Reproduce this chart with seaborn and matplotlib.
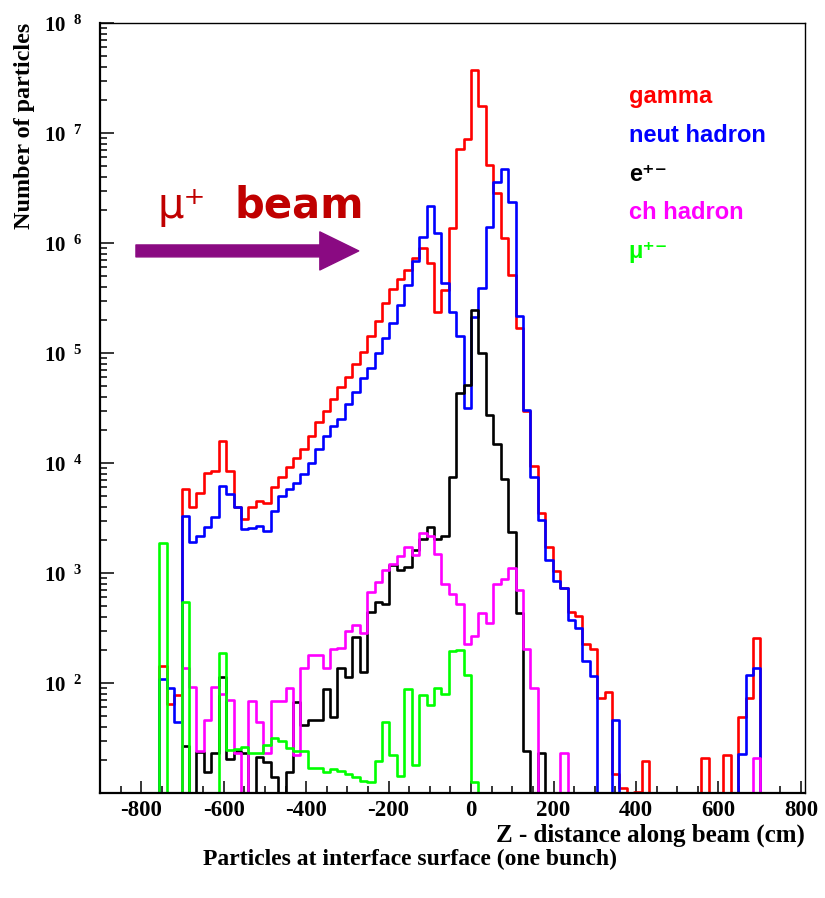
import numpy as np
import pandas as pd
import matplotlib
matplotlib.use("Agg")
import matplotlib.pyplot as plt
import seaborn as sns
from matplotlib.ticker import MultipleLocator, LogLocator, FuncFormatter, NullFormatter
from matplotlib.patches import FancyArrowPatch
from matplotlib.font_manager import FontProperties

# histogram binning: Z from -900 to 810 cm, 18 cm bins (95 bins)
z_lo, z_hi, z_bin = -900, 810, 18

gamma = [0, 0, 0, 0, 0, 0, 0, 0, 143, 65,
         78, 5800, 4000, 5370, 8160, 8500, 15800, 8500, 4000, 3100,
         4000, 4520, 4300, 6100, 7400, 9250, 11000, 13300, 17600, 23700,
         29900, 38500, 49000, 61000, 79000, 103000, 142000, 197000, 285000, 381000,
         468000, 569000, 727000, 896000, 653000, 237000, 374000, 1360000, 7160000, 8900000,
         37400000, 17600000, 5100000, 2830000, 1100000, 512000, 168000, 30000, 9440, 3490,
         1730, 1040, 735, 440, 407, 225, 203, 73, 82, 15,
         11, 0, 10.3, 19.7, 0, 0, 0, 0, 0, 0,
         0, 20.7, 0, 0, 22, 0, 49, 72.5, 255, 0,
         0, 0, 0, 0, 0]

neut_hadron = [0, 0, 0, 0, 0, 0, 0, 0, 108, 91,
               44.5, 3300, 1930, 2150, 2600, 3200, 6200, 5230, 4000, 2510,
               2550, 2650, 2400, 3680, 5000, 5760, 6610, 7940, 10000, 13300,
               17600, 21700, 25000, 34400, 44500, 58900, 73600, 99400, 136000, 186000,
               273000, 415000, 686000, 1140000, 2190000, 1240000, 430000, 234000, 143000, 31400,
               214000, 387000, 1410000, 3600000, 4700000, 2350000, 217000, 30300, 7500, 3020,
               1310, 845, 735, 374, 318, 158, 116, 0, 0, 46,
               0, 0, 0, 0, 0, 0, 0, 0, 0, 0,
               0, 0, 0, 0, 0, 0, 22.5, 118, 138, 0,
               0, 0, 0, 0, 0]

electrons = [0, 0, 0, 0, 0, 0, 0, 0, 0, 0,
             0, 26.7, 0, 23.5, 15.6, 23.2, 113, 20.5, 24, 23,
             0, 21.4, 19.2, 14, 0, 15.6, 67.6, 41.5, 46, 46,
             88, 49, 136, 114, 263, 127, 445, 548, 519, 1180,
             1060, 1140, 1620, 2040, 2630, 2040, 2170, 7500, 43000, 51000,
             245000, 100000, 27300, 14900, 7160, 2370, 435, 24.3, 0, 22.9,
             0, 0, 0, 0, 0, 0, 0, 0, 0, 0,
             0, 0, 0, 0, 0, 0, 0, 0, 0, 0,
             0, 0, 0, 0, 0, 0, 0, 0, 0, 0,
             0, 0, 0, 0, 0]

ch_hadron = [0, 0, 0, 0, 0, 0, 0, 0, 0, 0,
             0, 136, 92, 24, 46, 92, 80, 70, 23, 0,
             68, 44.5, 23, 68, 68, 91, 22, 136, 180, 180,
             136, 205, 207, 298, 340, 283, 676, 834, 1055, 1210,
             1440, 1710, 1450, 2290, 2150, 1480, 800, 640, 520, 228,
             268, 435, 354, 796, 880, 1110, 700, 203, 90, 0,
             0, 0, 23, 0, 0, 0, 0, 0, 0, 0,
             0, 0, 0, 0, 0, 0, 0, 0, 0, 0,
             0, 0, 0, 0, 0, 0, 0, 0, 21, 0,
             0, 0, 0, 0, 0]

muons = [0, 0, 0, 0, 0, 0, 0, 0, 1860, 0,
         0, 540, 0, 0, 0, 0, 186, 24.6, 25, 26,
         23, 23, 27.3, 31.8, 29.9, 25.5, 24.3, 24, 17, 17,
         15.5, 16.5, 16, 15, 13.9, 12.9, 12.6, 19.7, 44.5, 22,
         14.3, 89, 18, 78, 63, 90, 79, 195, 199, 117,
         12.6, 0, 0, 0, 0, 0, 0, 0, 0, 0,
         0, 0, 0, 0, 0, 0, 0, 0, 0, 0,
         0, 0, 0, 0, 0, 0, 0, 0, 0, 0,
         0, 0, 0, 0, 0, 0, 0, 0, 0, 0,
         0, 0, 0, 0, 0]

labels = ["gamma", "neut hadron", "e\u207a\u207b", "ch hadron", "\u03bc\u207a\u207b"]
colors = ["#ff0000", "#0000ff", "#000000", "#ff00ff", "#00ff00"]

plt.rcParams["axes.unicode_minus"] = False
plt.rcParams["mathtext.fontset"] = "custom"
plt.rcParams["mathtext.rm"] = "Liberation Serif:bold"
plt.rcParams["mathtext.it"] = "Liberation Serif:bold"
plt.rcParams["mathtext.bf"] = "Liberation Serif:bold"

serif_bold = dict(family="Liberation Serif", weight="bold")

edges = np.arange(z_lo, z_hi + 1, z_bin)
centers = edges[:-1] + z_bin / 2

fig = plt.figure(figsize=(8.25, 8.98), dpi=100)
ax = fig.add_axes([100 / 825, 1 - 793 / 898, 705 / 825, 770 / 898])

handles = []
for vals, col in zip([gamma, neut_hadron, electrons, ch_hadron, muons], colors):
    df = pd.DataFrame({"z": centers, "n": vals})
    sns.histplot(data=df, x="z", weights="n", bins=edges.tolist(), element="step",
                 fill=False, color=col, linewidth=1.9, ax=ax)
    handles.append(ax.lines[-1])

ax.set_yscale("log")
ax.set_xlim(z_lo, z_hi)
ax.set_ylim(10, 1e8)

# ROOT-like frame and ticks
for s in ["left", "bottom"]:
    ax.spines[s].set_linewidth(1.6)
for s in ["top", "right"]:
    ax.spines[s].set_linewidth(1.0)
ax.xaxis.set_major_locator(MultipleLocator(200))
ax.xaxis.set_minor_locator(MultipleLocator(50))
ax.yaxis.set_major_locator(LogLocator(base=10, numticks=12))
ax.yaxis.set_minor_locator(LogLocator(base=10, subs=np.arange(2, 10), numticks=12))
ax.yaxis.set_minor_formatter(NullFormatter())


def pow_label(v, pos):
    e = int(round(np.log10(v)))
    if e < 2:
        return ""
    return r"$10^{\ \ %d}$" % e


ax.yaxis.set_major_formatter(FuncFormatter(pow_label))
ax.tick_params(axis="both", which="both", direction="in", top=False, right=False, width=1.1)
ax.tick_params(axis="y", which="major", length=10, pad=13)
ax.tick_params(axis="y", which="minor", length=5)
ax.tick_params(axis="x", which="major", length=9, pad=5)
ax.tick_params(axis="x", which="minor", length=5)
for lab in ax.get_xticklabels():
    lab.set_fontsize(16.5)
    lab.set_fontfamily("Liberation Serif")
    lab.set_fontweight("bold")
for lab in ax.get_yticklabels():
    lab.set_fontsize(15)

ax.set_xlabel("Z - distance along beam (cm)", loc="right", fontsize=18, **serif_bold)
ax.xaxis.set_label_coords(1.0, -0.040)
ax.set_ylabel("Number of particles", loc="top", fontsize=17.4, **serif_bold)
ax.yaxis.set_label_coords(-0.092, 1.0)

fig.text(0.497, 1 - 859 / 898, "Particles at interface surface (one bunch)",
         ha="center", va="center", fontsize=17, **serif_bold)

# legend as coloured labels only
leg_font = FontProperties(family=["Liberation Sans", "DejaVu Sans"], weight="bold", size=17)
ax.legend(handles, labels, loc="upper left", bbox_to_anchor=(0.75, 0.919),
          frameon=False, handlelength=0, handletextpad=0, borderpad=0,
          borderaxespad=0, labelspacing=0.66, labelcolor="linecolor", prop=leg_font)

# beam direction annotation
arrow = FancyArrowPatch((0.051, 0.704), (0.367, 0.704), transform=ax.transAxes,
                        arrowstyle="simple,head_length=2.8,head_width=2.74,tail_width=0.86",
                        mutation_scale=10, color="#8a0a82", shrinkA=0, shrinkB=0)
ax.add_patch(arrow)
ax.text(0.082, 0.747, "\u03bc\u207a", transform=ax.transAxes, color="#c00000",
        fontsize=30, family="DejaVu Sans", va="baseline", ha="left")
ax.text(0.191, 0.747, "beam", transform=ax.transAxes, color="#c00000",
        fontsize=30, family="DejaVu Sans", fontweight="bold", va="baseline", ha="left")

fig.savefig("out.png", dpi=100)
